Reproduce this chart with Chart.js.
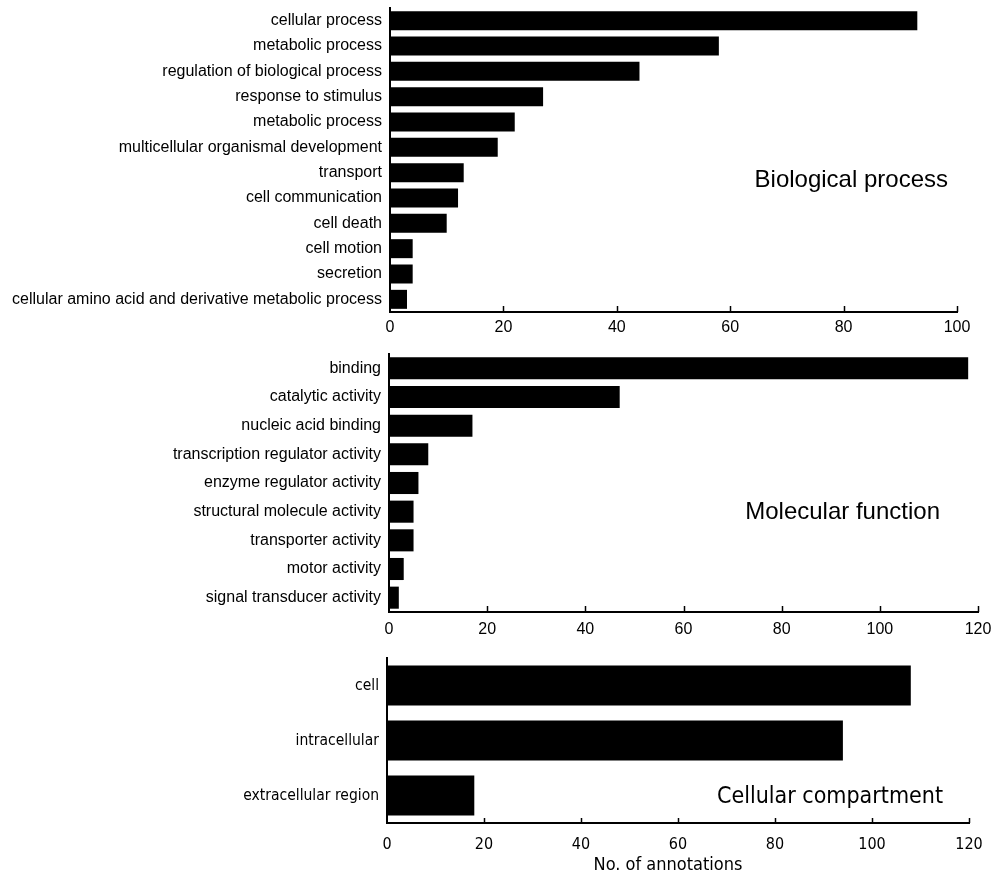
<!DOCTYPE html>
<html>
<head>
<meta charset="utf-8">
<script src="https://cdn.jsdelivr.net/npm/chart.js@4.4.1/dist/chart.umd.min.js"></script>
<style>
  html, body { margin: 0; padding: 0; background: #fff; }
  body { width: 991px; height: 877px; position: relative; overflow: hidden; }
  .wrap { position: absolute; left: 0; width: 991px; }
  canvas { display: block; }
</style>
</head>
<body>
<div class="wrap" style="top:0;height:345px;"><canvas id="c1" width="991" height="345"></canvas></div>
<div class="wrap" style="top:345px;height:305px;"><canvas id="c2" width="991" height="305"></canvas></div>
<div class="wrap" style="top:650px;height:227px;"><canvas id="c3" width="991" height="227"></canvas></div>
<script>
// ---- data ----
const bpLabels = [
  "cellular process",
  "metabolic process",
  "regulation of biological process",
  "response to stimulus",
  "metabolic process",
  "multicellular organismal development",
  "transport",
  "cell communication",
  "cell death",
  "cell motion",
  "secretion",
  "cellular amino acid and derivative metabolic process"
];
const bpValues = [93, 58, 44, 27, 22, 19, 13, 12, 10, 4, 4, 3];

const mfLabels = [
  "binding",
  "catalytic activity",
  "nucleic acid binding",
  "transcription regulator activity",
  "enzyme regulator activity",
  "structural molecule activity",
  "transporter activity",
  "motor activity",
  "signal transducer activity"
];
const mfValues = [118, 47, 17, 8, 6, 5, 5, 3, 2];

const ccLabels = ["cell", "intracellular", "extracellular region"];
const ccValues = [108, 94, 18];

const bpTitle = "Biological process";
const mfTitle = "Molecular function";
const ccTitle = "Cellular compartment";
const xAxisTitle = "No. of annotations";

const bpMax = 100, mfMax = 120, ccMax = 120, tickStep = 20;

// ---- plugins ----
const inwardTicks = {
  id: 'inwardTicks',
  afterDatasetsDraw(chart, args, opts) {
    const x = chart.scales.x;
    const ctx = chart.ctx;
    const bottom = chart.chartArea.bottom;
    ctx.save();
    ctx.strokeStyle = '#000';
    ctx.lineWidth = 1.5;
    x.ticks.forEach(t => {
      if (t.value <= 0) return;
      const px = Math.round(x.getPixelForValue(t.value)) + 0.5;
      ctx.beginPath();
      ctx.moveTo(px, bottom);
      ctx.lineTo(px, bottom - (opts.len || 6));
      ctx.stroke();
    });
    ctx.restore();
  }
};
const panelTitle = {
  id: 'panelTitle',
  afterDraw(chart, args, opts) {
    const ctx = chart.ctx;
    ctx.save();
    ctx.fillStyle = '#000';
    ctx.textBaseline = 'middle';
    ctx.font = opts.font;
    ctx.textAlign = 'right';
    ctx.fillText(opts.text, opts.x, opts.y);
    if (opts.axisText) {
      ctx.font = opts.axisFont;
      ctx.textAlign = 'center';
      ctx.fillText(opts.axisText, opts.axisX, opts.axisY);
    }
    ctx.restore();
  }
};

function makeChart(id, labels, values, o) {
  return new Chart(document.getElementById(id), {
    type: 'bar',
    data: {
      labels: labels,
      datasets: [{
        data: values,
        backgroundColor: '#000',
        borderWidth: 0,
        barPercentage: o.barPct,
        categoryPercentage: 1.0
      }]
    },
    plugins: [inwardTicks, panelTitle],
    options: {
      indexAxis: 'y',
      responsive: false,
      animation: false,
      events: [],
      layout: { padding: { top: o.padTop, right: o.padRight, left: 0, bottom: 0 } },
      plugins: {
        legend: { display: false },
        tooltip: { enabled: false },
        inwardTicks: { len: o.tickLen },
        panelTitle: {
          text: o.title, x: o.titleX, y: o.titleY, font: o.titleFont,
          axisText: o.axisTitle, axisX: o.axisTitleX, axisY: o.axisTitleY, axisFont: o.axisTitleFont
        }
      },
      scales: {
        y: {
          type: 'category',
          grid: { display: false, drawTicks: false },
          border: { display: true, color: '#000', width: 2 },
          ticks: { color: '#000', font: { family: o.labelFamily, size: o.labelSize }, padding: 8, autoSkip: false },
          afterFit(s) { s.width = o.left; s.paddingTop = 0; s.paddingBottom = 0; }
        },
        x: {
          type: 'linear',
          min: 0, max: o.max,
          grid: { display: false, drawTicks: false },
          border: { display: true, color: '#000', width: 2 },
          ticks: { stepSize: tickStep, color: '#000', font: { family: o.tickFamily, size: o.tickSize }, padding: o.tickPad, maxRotation: 0 },
          afterFit(s) { s.height = o.xh; s.paddingLeft = 0; s.paddingRight = 0; }
        }
      }
    }
  });
}

const arial = '"Liberation Sans", Arial, sans-serif';
const narrow = '"Liberation Sans Narrow", "Arial Narrow", "DejaVu Sans Condensed", sans-serif';

makeChart('c1', bpLabels, bpValues, {
  max: bpMax, barPct: 0.75, padTop: 8, padRight: 34, left: 390, xh: 33, tickPad: 6,
  labelFamily: arial, labelSize: 16, tickFamily: arial, tickSize: 16, tickLen: 6,
  title: bpTitle, titleX: 948, titleY: 180, titleFont: '24px ' + arial
});
makeChart('c2', mfLabels, mfValues, {
  max: mfMax, barPct: 0.77, padTop: 9, padRight: 13, left: 389, xh: 38, tickPad: 8,
  labelFamily: arial, labelSize: 16, tickFamily: arial, tickSize: 16, tickLen: 6,
  title: mfTitle, titleX: 940, titleY: 167, titleFont: '24px ' + arial
});
makeChart('c3', ccLabels, ccValues, {
  max: ccMax, barPct: 0.73, padTop: 8, padRight: 22, left: 387, xh: 54, tickPad: 12,
  labelFamily: narrow, labelSize: 15.5, tickFamily: narrow, tickSize: 16, tickLen: 5,
  title: ccTitle, titleX: 943, titleY: 147, titleFont: '23px ' + narrow,
  axisTitle: xAxisTitle, axisTitleX: 668, axisTitleY: 215, axisTitleFont: '18px ' + narrow
});
</script>
</body>
</html>
